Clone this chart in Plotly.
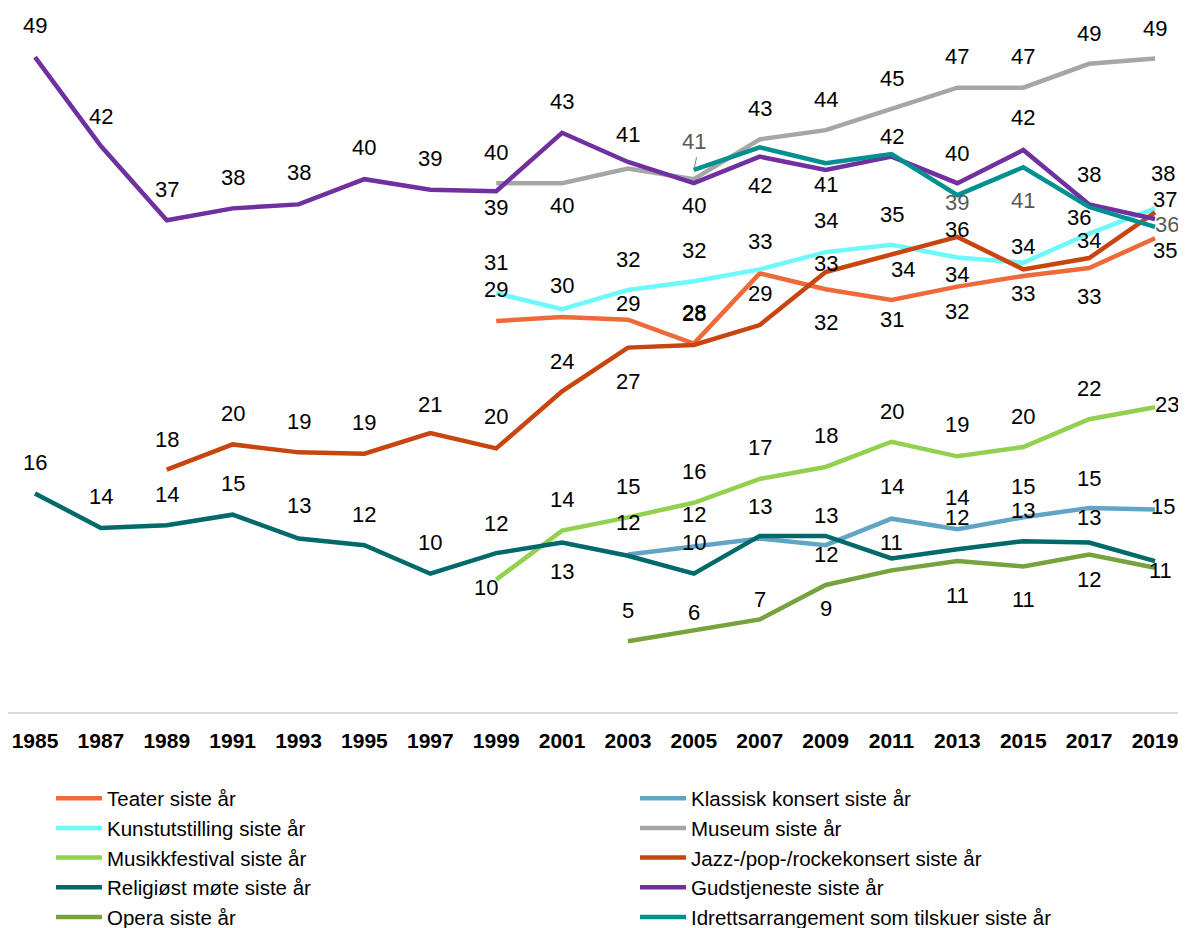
import plotly.graph_objects as go

YEARS = [1985, 1987, 1989, 1991, 1993, 1995, 1997, 1999, 2001, 2003,
         2005, 2007, 2009, 2011, 2013, 2015, 2017, 2019]
N = None

# ---- series values (percent) ----
teater = [N]*7 + [29.1, 29.4, 29.2, 27.4, 32.7, 31.5, 30.7, 31.7, 32.5, 33.1, 35.35]
klassisk = [N]*9 + [11.5, 12.1, 12.7, 12.2, 14.2, 13.4, 14.3, 15.0, 14.9]
kunst = [N]*7 + [31.2, 30.0, 31.45, 32.1, 33.0, 34.3, 34.85, 33.9, 33.5, 35.7, 37.6]
museum = [N]*7 + [39.5, 39.5, 40.6, 39.8, 42.8, 43.5, 45.1, 46.7, 46.7, 48.5, 48.9]
musikk = [N]*7 + [9.6, 13.3, 14.3, 15.4, 17.2, 18.1, 20.0, 18.9, 19.6, 21.7, 22.6]
jazz = [N, N, 17.9, 19.8, 19.2, 19.1, 20.65, 19.5, 23.8, 27.1, 27.3, 28.8, 32.8,
        34.1, 35.45, 33.0, 33.85, 37.3]
relig = [16.1, 13.5, 13.7, 14.5, 12.7, 12.2, 10.05, 11.6, 12.4, 11.4, 10.05, 12.9,
         12.9, 11.2, 11.9, 12.5, 12.4, 11.0]
gud = [49.0, 42.3, 36.7, 37.6, 37.9, 39.8, 39.0, 38.9, 43.3, 41.1, 39.5, 41.5,
       40.5, 41.5, 39.5, 42.0, 37.9, 36.8]
opera = [N]*9 + [4.95, 5.8, 6.6, 9.2, 10.3, 11.0, 10.6, 11.5, 10.5]
idrett = [N]*10 + [40.5, 42.2, 41.0, 41.7, 38.6, 40.7, 37.7, 36.2]

# ---- data label texts as printed on the chart ----
teater_lbl = [N]*7 + [29, N, 29, 28, N, 32, 31, 32, 33, 33, 35]
klassisk_lbl = [N]*9 + [12, 12, N, 12, 14, 14, 15, 15, 15]
kunst_lbl = [N]*7 + [31, 30, 32, 32, 33, 34, 35, 34, 34, 36, 38]
museum_lbl = [N]*7 + [40, 40, N, N, 43, 44, 45, 47, 47, 49, 49]
musikk_lbl = [N]*7 + [10, 14, 15, 16, 17, 18, 20, 19, 20, 22, 23]
jazz_lbl = [N, N, 18, 20, 19, 19, 21, 20, 24, 27, 28, 29, 33, 34, 36, N, 34, 37]
relig_lbl = [16, 14, 14, 15, 13, 12, 10, 12, 13, N, 10, 13, 13, 11, 12, 13, 13, 11]
gud_lbl = [49, 42, 37, 38, 38, 40, 39, 39, 43, 41, 40, 42, 41, 42, 40, 42, 38, N]
opera_lbl = [N]*9 + [5, 6, 7, 9, N, 11, 11, 12, N]
idrett_lbl = [N]*10 + [41, N, N, N, 39, 41, N, 36]

# ---- label placement (pixel shifts: up, right) ----
Z = 0
teater_dy = [Z]*7 + [32, Z, 16, 30, Z, -33, -20, -25, -18, -28, -12]
teater_dx = [Z]*17 + [10]
klassisk_dy = [Z]*9 + [32, 32, Z, -9, 32, 32, 31, 30, 3]
klassisk_dx = [Z]*17 + [8]
kunst_dy = [Z]*7 + [31, 24, 30, 31, 28, 32, 30, -17, 16, 16, 35]
kunst_dx = [Z]*16 + [-10, 8]
museum_dy = [Z]*7 + [31, -22, Z, Z, 31, 31, 30, 31, 31, 30, 30]
museum_dx = [Z]*18
musikk_dy = [Z]*7 + [-8, 31, 31, 31, 31, 31, 30, 32, 31, 31, 3]
musikk_dx = [Z]*7 + [-10] + [Z]*9 + [12]
jazz_dy = [Z, Z, 30, 31, 31, 31, 29, 32, 30, -34, 32, 32, 9, -15, 7, Z, 18, 13]
jazz_dx = [Z]*13 + [11, Z, Z, Z, 10]
relig_dy = [31, 31, 31, 31, 33, 31, 31, 30, -29, Z, 31, 29, 20, 16, 32, 31, 25, -9]
relig_dx = [Z]*17 + [5]
gud_dy = [32, 30, 31, 31, 32, 32, 31, -16, 31, 27, -22, -29, -15, 20, 30, 33, 30, Z]
gud_dx = [Z]*18
opera_dy = [Z]*9 + [31, 18, 20, -24, Z, -34, -33, -25, Z]
opera_dx = [Z]*18
idrett_dy = [Z]*10 + [28, Z, Z, Z, -7, -33, Z, 2]
idrett_dx = [Z]*17 + [12]

# legend order (row-wise, two columns)
SERIES = [
    ("Teater siste år", teater, teater_lbl, teater_dy, teater_dx, "#EE6A3A", "#000000"),
    ("Klassisk konsert siste år", klassisk, klassisk_lbl, klassisk_dy, klassisk_dx, "#62A4C6", "#000000"),
    ("Kunstutstilling siste år", kunst, kunst_lbl, kunst_dy, kunst_dx, "#6DF8FC", "#000000"),
    ("Museum siste år", museum, museum_lbl, museum_dy, museum_dx, "#A6A6A6", "#000000"),
    ("Musikkfestival siste år", musikk, musikk_lbl, musikk_dy, musikk_dx, "#92D050", "#000000"),
    ("Jazz-/pop-/rockekonsert siste år", jazz, jazz_lbl, jazz_dy, jazz_dx, "#C8450F", "#000000"),
    ("Religiøst møte siste år", relig, relig_lbl, relig_dy, relig_dx, "#006A6A", "#000000"),
    ("Gudstjeneste siste år", gud, gud_lbl, gud_dy, gud_dx, "#7030A0", "#000000"),
    ("Opera siste år", opera, opera_lbl, opera_dy, opera_dx, "#77A33F", "#000000"),
    ("Idrettsarrangement som tilskuer siste år", idrett, idrett_lbl, idrett_dy, idrett_dx, "#00908F", "#595959"),
]

FONT = "Arial, Liberation Sans, sans-serif"

fig = go.Figure()
annotations = []
for name, vals, lbls, dys, dxs, color, tcolor in SERIES:
    fig.add_trace(go.Scatter(
        x=YEARS, y=vals, name=name, mode="lines",
        line=dict(color=color, width=4.5), connectgaps=False,
        hoverinfo="skip",
    ))
    for yr, v, lb, dy, dx in zip(YEARS, vals, lbls, dys, dxs):
        if v is None or lb is None:
            continue
        annotations.append(dict(
            x=yr, y=v, text=str(lb), showarrow=False,
            xref="x", yref="y", yshift=dy, xshift=dx,
            font=dict(family=FONT, size=22, color=tcolor),
        ))

# leader line for Idrett 2005 label
annotations.append(dict(
    x=2005, y=idrett[10], xref="x", yref="y", text="",
    showarrow=True, arrowhead=0, arrowwidth=1, arrowcolor="#7F7F7F",
    ax=3, ay=-14,
))

# the page adds an 8px body margin, so the figure is 8px smaller than the window
fig.update_layout(
    width=1178, height=920,
    margin=dict(l=0, r=0, t=0, b=215.5, autoexpand=False),
    paper_bgcolor="white", plot_bgcolor="white",
    font=dict(family=FONT, size=21, color="#000000"),
    showlegend=True,
    legend=dict(
        orientation="h", x=0.0365, xanchor="left", y=-0.0944, yanchor="top",
        entrywidth=523, entrywidthmode="pixels", itemwidth=46,
        font=dict(family=FONT, size=20.5, color="#000000"),
        traceorder="normal", tracegroupgap=0,
    ),
    annotations=annotations,
)
fig.update_xaxes(
    range=[1984.18, 2019.94], tickmode="array", tickvals=YEARS,
    ticktext=[str(y) for y in YEARS], ticks="",
    tickfont=dict(family=FONT, size=21, color="#000000", weight="bold"),
    showgrid=False, zeroline=False, showline=True,
    linecolor="#D9D9D9", linewidth=1.5, ticklabelstandoff=9,
)
fig.update_yaxes(range=[-0.38, 52.71], visible=False, showgrid=False, zeroline=False)

fig.write_html("out.html")
